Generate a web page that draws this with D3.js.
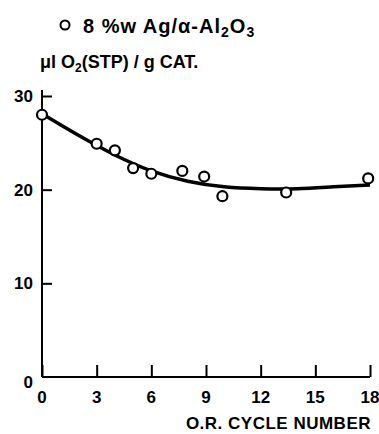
<!DOCTYPE html>
<html>
<head>
<meta charset="utf-8">
<script src="https://cdn.jsdelivr.net/npm/d3@7"></script>
<style>
  body { margin: 0; background: #fff; }
  svg text { font-family: "Liberation Sans", "DejaVu Sans", sans-serif; font-weight: bold; fill: #000; }
</style>
</head>
<body>
<div id="chart"></div>
<script>
// measured points (O.R. cycle number vs uptake)
const cycles = [0, 3, 4, 5, 6, 7.7, 8.9, 9.9, 13.4, 17.9];
const uptake = [28.0, 24.9, 24.2, 22.3, 21.7, 22.0, 21.4, 19.3, 19.7, 21.2];

// hand-drawn fit curve
const fitX = [0, 2, 4, 6, 8, 10, 12, 14, 16, 18];
const fitY = [28.1, 25.8, 23.7, 22.0, 20.9, 20.3, 20.1, 20.1, 20.3, 20.5];

const xTicks = [0, 3, 6, 9, 12, 15, 18];
const yTicks = [0, 10, 20, 30];

const width = 379, height = 434;
const margin = { left: 42, top: 96, right: 9, bottom: 57 };

const svg = d3.select("#chart")
  .append("svg")
  .attr("width", width)
  .attr("height", height);

const x = d3.scaleLinear()
  .domain([0, 18])
  .range([margin.left, width - margin.right]);

const y = d3.scaleLinear()
  .domain([0, 30])
  .range([height - margin.bottom, margin.top]);

// X axis: ticks point up into the plot
const xAxis = svg.append("g")
  .attr("transform", "translate(0," + y(0) + ")")
  .call(d3.axisTop(x).tickValues(xTicks).tickSize(12).tickFormat(""));
xAxis.select(".domain").attr("d", "M" + x(0) + ",0H" + x(18));
xAxis.selectAll("line, path").attr("stroke", "#000").attr("stroke-width", 2);

svg.selectAll(".xlab")
  .data(xTicks)
  .enter()
  .append("text")
  .attr("x", d => x(d))
  .attr("y", y(0) + 26)
  .attr("text-anchor", "middle")
  .style("font-size", "17px")
  .text(d => d);

// Y axis: ticks point right into the plot
const yAxis = svg.append("g")
  .attr("transform", "translate(" + x(0) + ",0)")
  .call(d3.axisRight(y).tickValues(yTicks.filter(d => d > 0)).tickSize(10).tickFormat(""));
yAxis.select(".domain").attr("d", "M0," + (y(30) - 6) + "V" + y(0));
yAxis.selectAll("line, path").attr("stroke", "#000").attr("stroke-width", 2);

svg.selectAll(".ylab")
  .data(yTicks)
  .enter()
  .append("text")
  .attr("x", x(0) - 9)
  .attr("y", d => d === 0 ? y(d) + 11 : y(d) + 6)
  .attr("text-anchor", "end")
  .style("font-size", "17px")
  .text(d => d);

// fit curve
const line = d3.line()
  .x((d, i) => x(fitX[i]))
  .y(d => y(d))
  .curve(d3.curveNatural);

svg.append("path")
  .datum(fitY)
  .attr("d", line)
  .attr("fill", "none")
  .attr("stroke", "#000")
  .attr("stroke-width", 3.5);

// data points
svg.selectAll(".pt")
  .data(cycles)
  .enter()
  .append("circle")
  .attr("cx", d => x(d))
  .attr("cy", (d, i) => y(uptake[i]))
  .attr("r", 5)
  .attr("fill", "#fff")
  .attr("stroke", "#000")
  .attr("stroke-width", 2.2);

// legend
svg.append("circle")
  .attr("cx", 65).attr("cy", 25).attr("r", 4.5)
  .attr("fill", "#fff").attr("stroke", "#000").attr("stroke-width", 2);

const leg = svg.append("text")
  .attr("x", 83).attr("y", 33)
  .style("font-size", "20px")
  .style("letter-spacing", "1px");
leg.append("tspan").text("8 %w Ag/α-Al");
leg.append("tspan").attr("dy", 4).style("font-size", "14px").text("2");
leg.append("tspan").attr("dy", -4).text("O");
leg.append("tspan").attr("dy", 4).style("font-size", "14px").text("3");

// y-axis title
const yt = svg.append("text")
  .attr("x", 40).attr("y", 68)
  .style("font-size", "18px");
yt.append("tspan").text("μl O");
yt.append("tspan").attr("dy", 4).style("font-size", "12px").text("2");
yt.append("tspan").attr("dy", -4).text("(STP) / g CAT.");

// x-axis title
svg.append("text")
  .attr("x", 371).attr("y", 429)
  .attr("text-anchor", "end")
  .style("font-size", "17px")
  .style("letter-spacing", "0.5px")
  .text("O.R. CYCLE NUMBER");
</script>
</body>
</html>
